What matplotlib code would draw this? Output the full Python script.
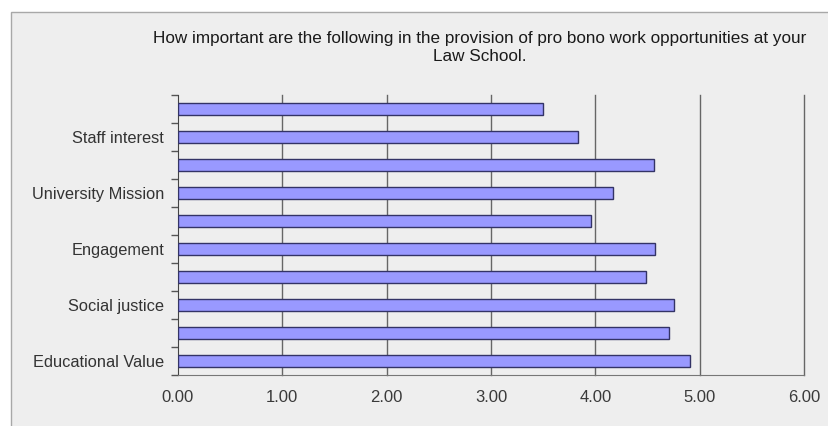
import matplotlib.pyplot as plt
from matplotlib.patches import Rectangle
import numpy as np

# data, bottom row first
labels = ['Educational Value', '', 'Social justice', '', 'Engagement', '',
          'University Mission', '', 'Staff interest', '']
values = [4.91, 4.71, 4.75, 4.49, 4.57, 3.96, 4.17, 4.56, 3.83, 3.50]
xticks = [0, 1, 2, 3, 4, 5, 6]
title = ('How important are the following in the provision of pro bono work opportunities at your\n'
         'Law School.')

plt.rcParams['font.family'] = ['Liberation Sans', 'DejaVu Sans']

W, H = 829, 426
fig = plt.figure(figsize=(W / 100, H / 100), dpi=100, facecolor='white')

# outer chart panel
fig.patches.append(Rectangle((11 / W, -0.01), 1.0, 1 - 12 / H + 0.01, transform=fig.transFigure,
                             facecolor='#eeeeee', edgecolor='#a8a8a8', lw=1, zorder=0))

ax = fig.add_axes([178 / W, 1 - 375 / H, (804 - 178) / W, (375 - 95) / H])
ax.set_zorder(2)
ax.set_facecolor('none')

y = np.arange(len(values))
ax.barh(y, values, height=0.44, color='#9999ff', edgecolor='#333366', lw=1, zorder=3)

ax.set_xlim(0, 6)
ax.set_ylim(-0.5, len(values) - 0.5)
ax.set_xticks(xticks)
ax.set_xticklabels(['%.2f' % v for v in xticks], fontsize=12, color='#3a3a3a')
ax.set_yticks(y)
ax.set_yticklabels(labels, fontsize=11.8, color='#333333')
ax.set_yticks(np.arange(len(values) + 1) - 0.5, minor=True)
ax.tick_params(axis='y', which='major', length=0, pad=10)
ax.tick_params(axis='y', which='minor', length=5, color='#555555', width=1)
ax.tick_params(axis='x', length=0, pad=11)

for v in xticks[1:]:
    ax.axvline(v, color='#666666', lw=1, zorder=1, clip_on=False)

for s in ['top', 'right']:
    ax.spines[s].set_visible(False)
ax.spines['left'].set_color('#444444')
ax.spines['bottom'].set_color('#777777')

fig.text(480 / W, 1 - 47.5 / H, title, ha='center', va='center', fontsize=12.3,
         color='#1a1a1a', linespacing=1.2)

fig.savefig('out.png', dpi=100)
